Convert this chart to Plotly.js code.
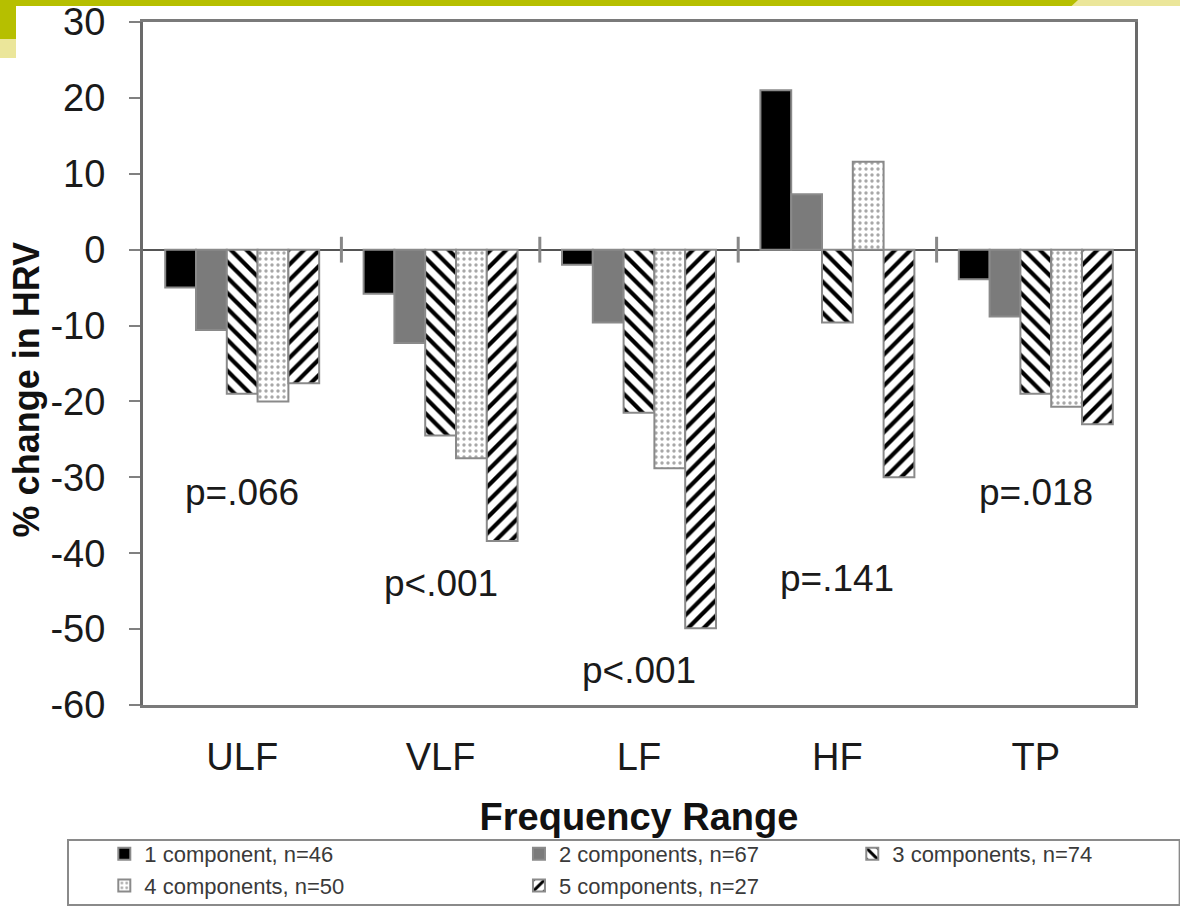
<!DOCTYPE html>
<html>
<head>
<meta charset="utf-8">
<script src="https://cdn.plot.ly/plotly-3.0.1.min.js"></script>
<style>
  html, body { margin:0; padding:0; background:#fff; overflow:hidden; width:1180px; height:906px; }
  #wrap { position:relative; width:1180px; height:906px; overflow:hidden; }
  #chart { position:absolute; left:0; top:0; width:1180px; height:906px; }
  .deco { position:absolute; z-index:5; pointer-events:none; }
</style>
</head>
<body>
<div id="wrap">
  <div id="chart"></div>
  <div class="deco" style="left:0;top:0;width:1180px;height:6px;background:#ebe69a;"></div>
  <div class="deco" style="left:0;top:0;width:1078px;height:6px;background:#b6bf00;clip-path:polygon(0 0,100% 0,99.4% 100%,0 100%);"></div>
  <div class="deco" style="left:0;top:0;width:16px;height:39px;background:#b6bf00;"></div>
  <div class="deco" style="left:0;top:39px;width:16px;height:19px;background:#ebe69a;"></div>
</div>
<script>
const categories = ['ULF', 'VLF', 'LF', 'HF', 'TP'];
const seriesNames = [
  '1 component, n=46',
  '2 components, n=67',
  '3 components, n=74',
  '4 components, n=50',
  '5 components, n=27'
];
const comp1 = [-5.0, -5.8, -2.0, 21.0, -3.9];
const comp2 = [-10.6, -12.3, -9.6, 7.3, -8.8];
const comp3 = [-19.0, -24.5, -21.5, -9.6, -19.0];
const comp4 = [-20.0, -27.5, -28.8, 11.6, -20.7];
const comp5 = [-17.6, -38.4, -49.9, -30.0, -23.0];
const pLabels = ['p=.066', 'p<.001', 'p<.001', 'p=.141', 'p=.018'];
const pLabelY = [-32, -44, -55.5, -43.3, -32];
const yTickValues = [30, 20, 10, 0, -10, -20, -30, -40, -50, -60];
const xTitle = 'Frequency Range';
const yTitle = '% change in HRV';

const FONT = 'Arial, "Liberation Sans", Helvetica, sans-serif';
const values = [comp1, comp2, comp3, comp4, comp5];
const legendOf = ['legend', 'legend2', 'legend3', 'legend', 'legend2'];
const styles = [
  {color: '#000000', pattern: {shape: ''}},
  {color: '#7b7b7b', pattern: {shape: ''}},
  {color: '#ffffff', pattern: {shape: '\\', fgcolor: '#000000', bgcolor: '#ffffff', size: 11, solidity: 0.38}},
  {color: '#ffffff', pattern: {shape: '.', fgcolor: '#a8a8a8', bgcolor: '#ffffff', size: 6, solidity: 0.25}},
  {color: '#ffffff', pattern: {shape: '/', fgcolor: '#000000', bgcolor: '#ffffff', size: 11, solidity: 0.38}}
];

const traces = values.map((v, i) => ({
  type: 'bar',
  name: seriesNames[i],
  x: categories,
  y: v,
  legend: legendOf[i],
  marker: {
    color: styles[i].color,
    pattern: styles[i].pattern,
    line: {color: '#8a8a8a', width: 2}
  },
  hoverinfo: 'x+y+name'
}));

const shapes = [];
for (let i = 1; i < categories.length; i++) {
  shapes.push({type: 'line', xref: 'x', yref: 'y', x0: i - 0.5, x1: i - 0.5, y0: -1.7, y1: 1.7,
    line: {color: '#888888', width: 3}});
}
// legend box
shapes.push({type: 'rect', xref: 'paper', yref: 'paper',
  x0: -0.0756, x1: 1.045, y0: -0.293, y1: -0.1977,
  line: {color: '#8a8a8a', width: 2}, fillcolor: 'rgba(0,0,0,0)', layer: 'below'});

const annotations = pLabels.map((t, i) => ({
  x: categories[i], y: pLabelY[i], xref: 'x', yref: 'y', text: t, showarrow: false,
  font: {family: FONT, size: 37, color: '#1a1a1a'}
}));
annotations.push({
  xref: 'paper', yref: 'paper', x: -0.117, y: 0.462, xanchor: 'center', yanchor: 'middle',
  text: '<b>' + yTitle + '</b>', textangle: -90, showarrow: false,
  font: {family: FONT, size: 36, color: '#111'}
});

const legendBase = {
  orientation: 'v', xanchor: 'left', yanchor: 'top', bgcolor: 'rgba(0,0,0,0)', borderwidth: 0,
  font: {family: FONT, size: 22, color: '#3a3a3a'}, tracegroupgap: 0, itemwidth: 30
};

const layout = {
  width: 1180, height: 906,
  margin: {l: 143, r: 45, t: 22, b: 201, autoexpand: false},
  paper_bgcolor: '#ffffff', plot_bgcolor: '#ffffff',
  font: {family: FONT, color: '#1a1a1a'},
  barmode: 'group', bargap: 0.224, bargroupgap: 0,
  showlegend: true,
  legend: Object.assign({}, legendBase, {x: -0.039, y: -0.1875}),
  legend2: Object.assign({}, legendBase, {x: 0.379, y: -0.1875}),
  legend3: Object.assign({}, legendBase, {x: 0.715, y: -0.1875}),
  xaxis: {
    type: 'category',
    showline: true, linecolor: '#7a7a7a', linewidth: 3, mirror: true,
    ticks: '', showgrid: false, zeroline: false,
    tickfont: {family: FONT, size: 38, color: '#1a1a1a'},
    ticklabelstandoff: 16,
    title: {text: '<b>' + xTitle + '</b>', font: {family: FONT, size: 38, color: '#111'}, standoff: 27},
    automargin: false
  },
  yaxis: {
    range: [-60, 30],
    tickmode: 'array', tickvals: yTickValues, ticktext: yTickValues.map(v => String(v)),
    showline: true, linecolor: '#6a6a6a', linewidth: 3, mirror: true,
    ticks: 'outside', ticklen: 11, tickwidth: 2, tickcolor: '#808080',
    showgrid: false,
    zeroline: true, zerolinecolor: '#555555', zerolinewidth: 2,
    tickfont: {family: FONT, size: 38, color: '#1a1a1a'},
    ticklabelstandoff: 16,
    automargin: false
  },
  shapes: shapes,
  annotations: annotations
};

Plotly.newPlot('chart', traces, layout, {displayModeBar: false, staticPlot: true});
</script>
</body>
</html>
